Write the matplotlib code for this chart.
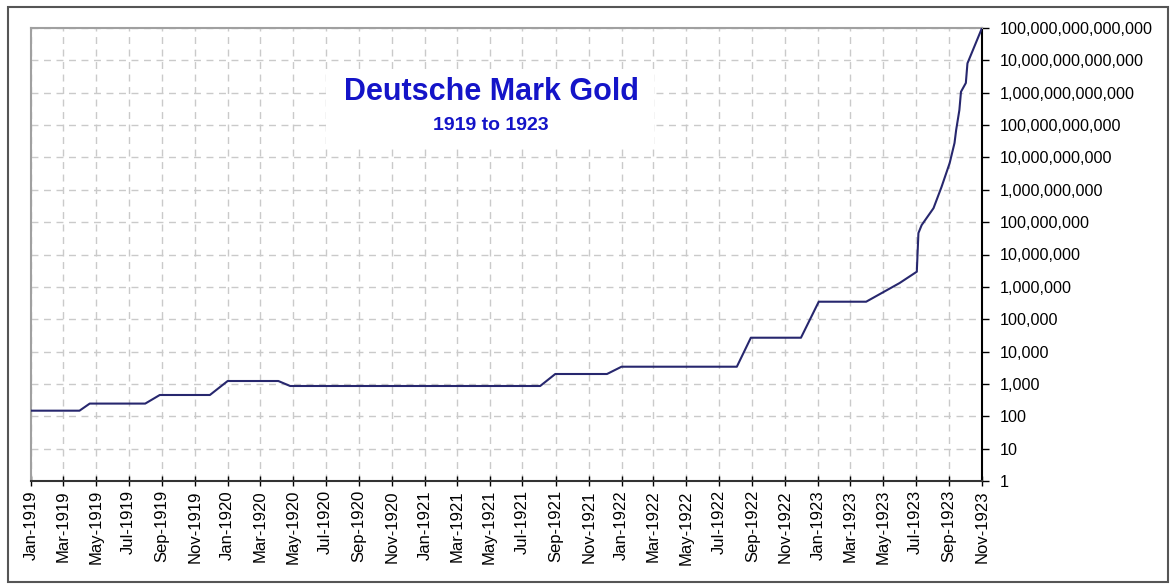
import matplotlib
matplotlib.use('Agg')
import matplotlib.pyplot as plt
import matplotlib.dates as mdates
from matplotlib.patches import Rectangle
from matplotlib.ticker import FixedLocator, FuncFormatter, NullLocator
import pandas as pd

# paper marks per gold mark
dates = ['1919-01-01', '1919-04-01', '1919-04-20', '1919-08-01', '1919-08-28',
         '1919-11-29', '1920-01-01', '1920-04-04', '1920-04-26', '1921-08-03',
         '1921-08-31', '1921-12-05', '1922-01-01', '1922-08-03', '1922-08-29',
         '1922-11-30', '1923-01-02', '1923-03-31', '1923-06-01', '1923-07-03',
         '1923-07-06', '1923-07-12', '1923-08-03', '1923-08-18', '1923-09-02',
         '1923-09-11', '1923-09-14', '1923-09-20', '1923-09-23', '1923-10-02',
         '1923-10-05', '1923-11-01']
values = [149, 149, 247, 247, 455,
          455, 1231, 1231, 863, 863,
          2027, 2027, 3405, 3405, 26800,
          26800, 347500, 347500, 1.31e6, 2.94e6,
          4.6e7, 8.1e7, 2.7e8, 1.24e9, 6.7e9,
          2.8e10, 7.0e10, 2.9e11, 1.07e12, 2.0e12,
          8.1e12, 1.0e14]

title = 'Deutsche Mark Gold'
subtitle = '1919 to 1923'
y_ticks = [10 ** k for k in range(15)]

plt.rcParams['font.family'] = ['Liberation Sans', 'DejaVu Sans']

fig = plt.figure(figsize=(11.71, 5.84), dpi=100)
ax = fig.add_axes([31 / 1171, 103 / 584, 951 / 1171, 453 / 584])

x = pd.to_datetime(dates)
ax.plot(x, values, color='#27276e', lw=1.5, zorder=3)

ax.set_yscale('log')
ax.set_ylim(1, 1e14)
ax.set_xlim(pd.Timestamp('1919-01-01'), pd.Timestamp('1923-11-01'))

ax.yaxis.set_major_locator(FixedLocator(y_ticks))
ax.yaxis.set_minor_locator(NullLocator())
ax.yaxis.set_major_formatter(FuncFormatter(lambda v, p: '{:,}'.format(int(round(v)))))
ax.yaxis.tick_right()
ax.tick_params(axis='y', direction='out', length=5, width=1, pad=8,
               labelsize=11.6, colors='black')

ax.xaxis.set_major_locator(mdates.MonthLocator(bymonth=[1, 3, 5, 7, 9, 11]))
ax.xaxis.set_major_formatter(mdates.DateFormatter('%b-%Y'))
ax.tick_params(axis='x', direction='inout', length=7, width=1, pad=3,
               labelsize=12, labelrotation=90)

ax.grid(True, color='#cacaca', linestyle=(0, (5, 4)), lw=1)
ax.set_axisbelow(True)

for s in ['left', 'top']:
    ax.spines[s].set_color('#a0a0a0')
    ax.spines[s].set_linewidth(1.5)
ax.spines['right'].set_color('black')
ax.spines['right'].set_linewidth(1.5)
ax.spines['bottom'].set_color('#333333')
ax.spines['bottom'].set_linewidth(1.5)

# white box behind the title
ax.add_patch(Rectangle((0.31, 0.74), 0.345, 0.165, transform=ax.transAxes,
                       facecolor='white', edgecolor='none', zorder=1.5))
ax.text(0.484, 0.858, title, transform=ax.transAxes, ha='center', va='center',
        fontsize=22, fontweight='bold', color='#1414c8', zorder=4)
ax.text(0.484, 0.785, subtitle, transform=ax.transAxes, ha='center', va='center',
        fontsize=14, fontweight='bold', color='#1414c8', zorder=4)

# outer frame
fig.patches.append(Rectangle((8 / 1171, 2 / 584), 1160 / 1171, 575 / 584,
                             transform=fig.transFigure, fill=False,
                             edgecolor='#555555', lw=1.5))

fig.savefig('out.png', dpi=100)
